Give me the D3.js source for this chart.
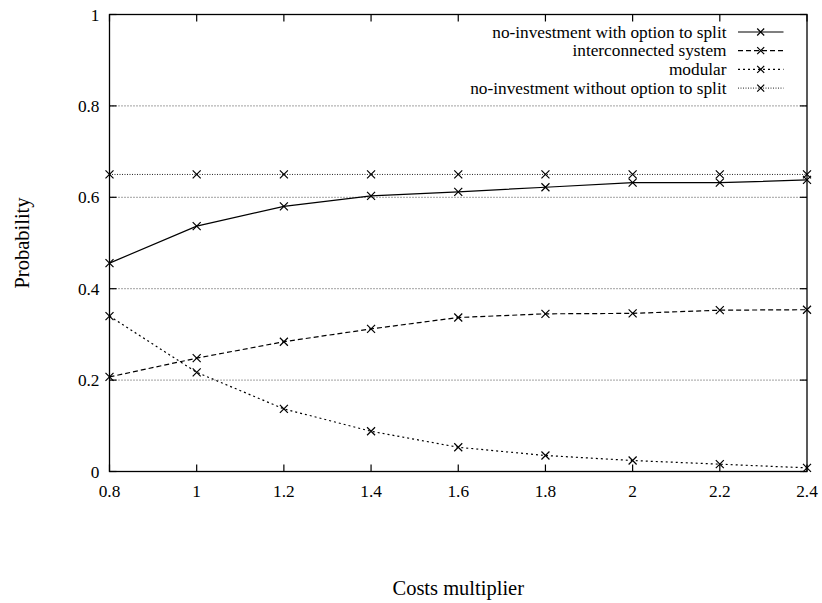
<!DOCTYPE html>
<html>
<head>
<meta charset="utf-8">
<script src="https://cdn.jsdelivr.net/npm/d3@7"></script>
<style>
  body { margin: 0; background: #fff; }
  svg { display: block; }
  text { font-family: "Liberation Serif", "DejaVu Serif", serif; fill: #000; }
</style>
</head>
<body>
<svg id="chart" width="822" height="603"></svg>
<script>
// Costs multiplier (x) and probability of each outcome
const multipliers = [0.8, 1.0, 1.2, 1.4, 1.6, 1.8, 2.0, 2.2, 2.4];
const noInvestSplit = [0.456, 0.537, 0.580, 0.603, 0.612, 0.622, 0.632, 0.632, 0.638];
const interconnected = [0.207, 0.248, 0.284, 0.312, 0.337, 0.345, 0.346, 0.353, 0.354];
const modular = [0.340, 0.217, 0.137, 0.088, 0.053, 0.035, 0.024, 0.016, 0.008];
const noInvestNoSplit = [0.650, 0.650, 0.650, 0.650, 0.650, 0.650, 0.650, 0.650, 0.650];

const seriesNames = [
  "no-investment with option to split",
  "interconnected system",
  "modular",
  "no-investment without option to split"
];
const xTicks = [0.8, 1.0, 1.2, 1.4, 1.6, 1.8, 2.0, 2.2, 2.4];
const yTicks = [0, 0.2, 0.4, 0.6, 0.8, 1];

const series = [
  { name: seriesNames[0], values: noInvestSplit, dash: null, width: 1.2, color: "#000" },
  { name: seriesNames[1], values: interconnected, dash: "5,3", width: 1.2, color: "#000" },
  { name: seriesNames[2], values: modular, dash: "2,3", width: 1.2, color: "#000" },
  { name: seriesNames[3], values: noInvestNoSplit, dash: "1,1.5", width: 1, color: "#222" }
];

const svg = d3.select("#chart");
const plotL = 109.5, plotR = 807, plotT = 14.5, plotB = 471.5;
const tickFont = 17.3, titleFont = 20.5;

const x = d3.scaleLinear().domain([0.8, 2.4]).range([plotL, plotR]);
const y = d3.scaleLinear().domain([0, 1]).range([plotB, plotT]);

// horizontal dotted grid
svg.append("g")
  .selectAll("line")
  .data(yTicks.filter(v => v > 0 && v < 1))
  .join("line")
  .attr("x1", plotL).attr("x2", plotR)
  .attr("y1", d => y(d)).attr("y2", d => y(d))
  .attr("stroke", "#444").attr("stroke-width", 1)
  .attr("stroke-dasharray", "1,2");

// inward ticks on all four sides
const tickLen = 7;
const ticks = svg.append("g").attr("stroke", "#000").attr("stroke-width", 1.2);
xTicks.forEach(v => {
  ticks.append("line").attr("x1", x(v)).attr("x2", x(v)).attr("y1", plotB).attr("y2", plotB - tickLen);
  ticks.append("line").attr("x1", x(v)).attr("x2", x(v)).attr("y1", plotT).attr("y2", plotT + tickLen);
});
yTicks.forEach(v => {
  ticks.append("line").attr("x1", plotL).attr("x2", plotL + tickLen).attr("y1", y(v)).attr("y2", y(v));
  ticks.append("line").attr("x1", plotR).attr("x2", plotR - tickLen).attr("y1", y(v)).attr("y2", y(v));
});

// tick labels
svg.append("g")
  .selectAll("text")
  .data(xTicks)
  .join("text")
  .attr("x", d => x(d)).attr("y", plotB + 25.5)
  .attr("text-anchor", "middle")
  .attr("font-size", tickFont)
  .text(d => d3.format("~g")(d));

svg.append("g")
  .selectAll("text")
  .data(yTicks)
  .join("text")
  .attr("x", plotL - 10).attr("y", d => y(d) + 6)
  .attr("text-anchor", "end")
  .attr("font-size", tickFont)
  .text(d => d3.format("~g")(d));

// border
svg.append("rect")
  .attr("x", plotL).attr("y", plotT)
  .attr("width", plotR - plotL).attr("height", plotB - plotT)
  .attr("fill", "none").attr("stroke", "#000").attr("stroke-width", 1.3);

// cross marker
function cross(g, cx, cy, s, color) {
  g.append("path")
    .attr("d", `M${cx - s},${cy - s}L${cx + s},${cy + s}M${cx - s},${cy + s}L${cx + s},${cy - s}`)
    .attr("stroke", color).attr("stroke-width", 1.2).attr("fill", "none");
}

const line = d3.line().x(d => x(d[0])).y(d => y(d[1]));

// draw series back to front
[3, 2, 1, 0].forEach(i => {
  const s = series[i];
  const pts = multipliers.map((m, j) => [m, s.values[j]]);
  const g = svg.append("g");
  g.append("path")
    .attr("d", line(pts))
    .attr("fill", "none")
    .attr("stroke", s.color)
    .attr("stroke-width", s.width)
    .attr("stroke-dasharray", s.dash);
  pts.forEach(p => cross(g, x(p[0]), y(p[1]), 4, "#000"));
});

// legend
const legend = svg.append("g");
series.forEach((s, i) => {
  const ly = 32 + i * 18.7;
  legend.append("text")
    .attr("x", 726.5).attr("y", ly + 5.5)
    .attr("text-anchor", "end")
    .attr("font-size", tickFont)
    .text(s.name);
  legend.append("line")
    .attr("x1", 738).attr("x2", 783.5)
    .attr("y1", ly).attr("y2", ly)
    .attr("stroke", s.color).attr("stroke-width", s.width)
    .attr("stroke-dasharray", s.dash);
  cross(legend, 760.7, ly, 3.5, "#000");
});

// axis titles
svg.append("text")
  .attr("transform", `translate(28.5,${(plotT + plotB) / 2}) rotate(-90)`)
  .attr("text-anchor", "middle")
  .attr("font-size", titleFont)
  .text("Probability");

svg.append("text")
  .attr("x", (plotL + plotR) / 2).attr("y", 595)
  .attr("text-anchor", "middle")
  .attr("font-size", titleFont)
  .text("Costs multiplier");
</script>
</body>
</html>
